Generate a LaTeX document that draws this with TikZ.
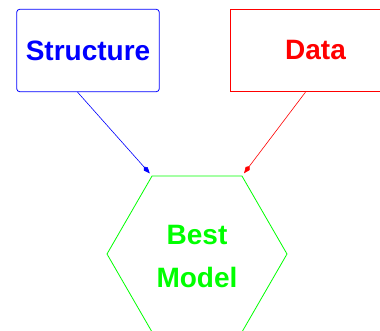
\documentclass[tikz,border=0pt]{standalone}
\usepackage{fontspec}
\setmainfont{Liberation Sans}
\usetikzlibrary{shapes.geometric,arrows.meta}
\begin{document}
\begin{tikzpicture}[x=1pt,y=-1pt,
  lbl/.style={font=\fontsize{28}{43}\selectfont\bfseries, align=center},
  boxstyle/.style={draw, line width=0.8pt, minimum height=82.4pt, inner sep=0pt},
  conn/.style={line width=0.6pt, -{Kite[length=9pt,width=5pt,inset=3pt]}, shorten >=3pt}]
\useasboundingbox (0,0) rectangle (380,330);
\clip (0,0) rectangle (380,330);
\node[boxstyle, blue, rounded corners=3pt, minimum width=142.6pt, lbl] (s) at (88,50.5) {Structure};
\node[boxstyle, red, minimum width=169.6pt, lbl] (d) at (315.5,50.5) {Data};
\node[draw=green, line width=0.8pt, regular polygon, regular polygon sides=6, minimum size=180pt, inner sep=0pt] (h) at (197,254) {};
\node[lbl, text=green] (t) at ([yshift=-2pt]h.center) {Best\\Model};
\draw[conn, blue] ([xshift=-10.5pt]s.south) -- (h.120);
\draw[conn, red] ([xshift=-10pt]d.south) -- (h.60);
\end{tikzpicture}
\end{document}
